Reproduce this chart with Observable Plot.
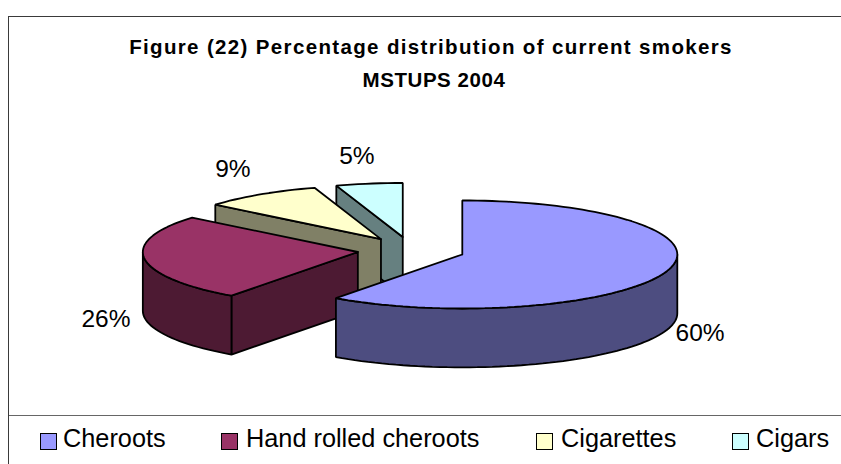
<!DOCTYPE html>
<html>
<head>
<meta charset="utf-8">
<script src="https://cdn.jsdelivr.net/npm/d3@7"></script>
<script src="https://cdn.jsdelivr.net/npm/@observablehq/plot@0.6"></script>
<style>
  html, body { margin: 0; padding: 0; background: #fff; }
  #page { position: relative; width: 841px; height: 464px; overflow: hidden; font-family: "Liberation Sans", Arial, sans-serif; color: #000; }
  #frame { position: absolute; left: 8px; top: 16px; width: 840px; height: 460px; border: 1.5px solid #3a3a3a; box-sizing: border-box; pointer-events: none; }
  #title { height: 100px; box-sizing: border-box; padding-top: 30px; padding-left: 21px; text-align: center; font-weight: bold; font-size: 20.5px; line-height: 33px; }
  #title .l1 { display: block; letter-spacing: 1.35px; }
  #title .l2 { display: block; letter-spacing: 0.55px; position: relative; left: 3px; }
  #chart svg { display: block; }
  #legend { position: relative; height: 49px; border-top: 1.5px solid #666; margin-left: 9px; box-sizing: border-box; }
  .sw { position: absolute; top: 17px; width: 15px; height: 15px; border: 1.5px solid #000; box-sizing: content-box; }
  .lb { position: absolute; top: 7px; font-size: 25.3px; line-height: 30px; white-space: nowrap; }
</style>
</head>
<body>
<div id="page">
  <div id="title"><span class="l1">Figure (22) Percentage distribution of current smokers</span><span class="l2">MSTUPS 2004</span></div>
  <div id="chart"></div>
  <div id="legend"></div>
  <div id="frame"></div>
</div>
<script>
// Data
const categories = ["Cheroots", "Hand rolled cheroots", "Cigarettes", "Cigars"];
const shares = [60, 26, 9, 5];
const labels = ["60%", "26%", "9%", "5%"];
const topColors = ["#9999FF", "#993366", "#FFFFCC", "#CCFFFF"];
const sideColors = ["#4D4D80", "#4D1A33", "#808066", "#668080"];
const legendLeft = [31, 212, 527, 723];
const legendTextGap = [23, 25, 25, 24];

// Pie geometry, in units of the pie radius (the y scale squashes the circle to an ellipse)
const W = 841, H = 315;
const explode = 0.25, depth = 1.09, labelK = 1.172, labelLift = 0.33, labelShiftBack = 0.03, labelShiftFront = 0.009;
const rad = d => d * Math.PI / 180;
const total = d3.sum(shares);
let acc = 0;
const slices = shares.map((v, i) => {
  const a0 = acc / total * 360; acc += v;
  const a1 = acc / total * 360;
  const mid = rad((a0 + a1) / 2);
  return {i, a0, a1, mid, ox: explode * Math.sin(mid), oy: -explode * Math.cos(mid)};
});
const rim = (s, a, dz = 0) => ({x: s.ox + Math.sin(rad(a)), y: s.oy - Math.cos(rad(a)) + dz});
const arc = (s, from, to, dz = 0) => {
  const n = Math.max(1, Math.ceil((to - from) / 2));
  return d3.range(n + 1).map(k => rim(s, from + (to - from) * k / n, dz));
};

// Painter's order: far slices first; each slice's side faces, then its top
const polys = [];
const add = (pts, fill) => {
  const id = polys.length ? polys[polys.length - 1].id + 1 : 0;
  [...pts, pts[0]].forEach(p => polys.push({...p, id, fill}));
};
[...slices].reverse().forEach(s => {
  const c = {x: s.ox, y: s.oy};
  if (Math.sin(rad(s.a0)) < -1e-6) {
    const r = rim(s, s.a0), rb = rim(s, s.a0, depth);
    add([c, r, rb, {x: c.x, y: c.y + depth}], sideColors[s.i]);
  }
  const from = Math.max(s.a0, 90), to = Math.min(s.a1, 270);
  if (to > from) add([...arc(s, from, to), ...arc(s, from, to, depth).reverse()], sideColors[s.i]);
  add([c, ...arc(s, s.a0, s.a1)], topColors[s.i]);
});

const labelData = slices.map(s => {
  const front = Math.cos(s.mid) < 0;
  return {
    x: s.ox + labelK * Math.sin(s.mid) - (front ? labelShiftFront : labelShiftBack),
    y: s.oy - labelK * Math.cos(s.mid) + (front ? depth : -labelLift),
    text: labels[s.i]
  };
});

const plot = Plot.plot({
  width: W, height: H, margin: 0,
  x: {domain: [-1.91, 2.0014], range: [0, W], axis: null},
  y: {domain: [-2.774, 3.059], range: [0, H], axis: null},
  color: {type: "identity"},
  marks: [
    Plot.line(polys, {x: "x", y: "y", z: "id", fill: "fill", stroke: "#000", strokeWidth: 1.8, strokeLinejoin: "miter"}),
    Plot.text(labelData, {x: "x", y: "y", text: "text", fontSize: 24.5, fontFamily: "Liberation Sans", fill: "#000"})
  ]
});
document.getElementById("chart").appendChild(plot);

const legend = d3.select("#legend");
categories.forEach((c, i) => {
  legend.append("div").attr("class", "sw").style("left", legendLeft[i] + "px").style("background", topColors[i]);
  legend.append("div").attr("class", "lb").style("left", (legendLeft[i] + legendTextGap[i]) + "px").text(c);
});
</script>
</body>
</html>
